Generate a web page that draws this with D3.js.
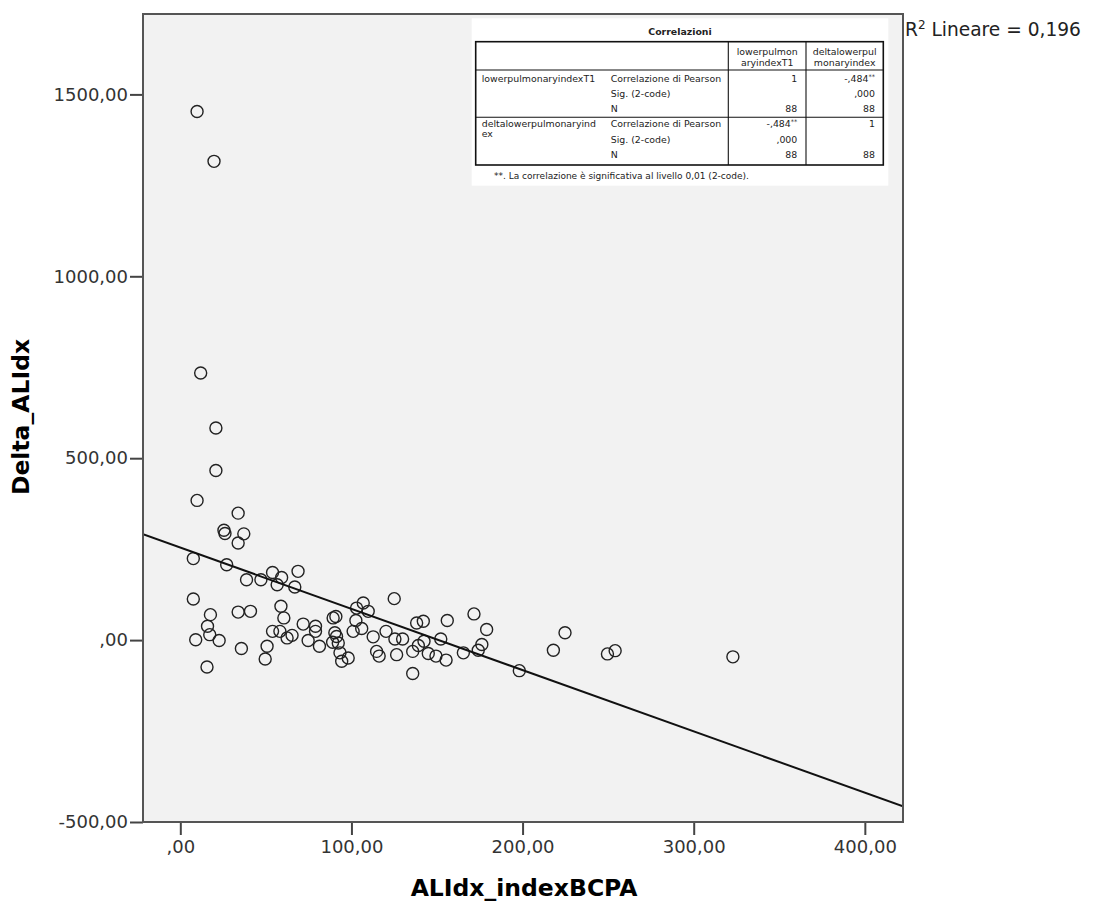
<!DOCTYPE html>
<html>
<head>
<meta charset="utf-8">
<script src="https://cdn.jsdelivr.net/npm/d3@7"></script>
<style>
  body { margin: 0; background: #fff; }
  text { font-family: "DejaVu Sans", sans-serif; }
</style>
</head>
<body>
<div id="chart"></div>
<script>
// valori (88 casi)
const indexBCPA = [
  9.8, 19.7, 11.9, 20.8, 20.8, 9.8, 33.8, 25.5, 26.1, 37.1,
  33.8, 7.6, 27.1, 38.7, 47.1, 53.9, 59.2, 56.6, 68.8, 66.9,
  7.6, 17.6, 15.9, 17.2, 9.0, 22.7, 33.8, 41.0, 58.8, 60.5,
  53.9, 58.2, 62.4, 65.3, 71.8, 79.0, 79.0, 74.7, 81.3, 89.3,
  90.9, 90.3, 91.3, 89.0, 92.3, 93.3, 94.3, 35.7, 50.7, 49.6,
  15.6, 125.0, 106.9, 103.0, 109.8, 102.6, 106.0, 101.0, 112.7, 120.2,
  125.4, 129.9, 138.1, 142.0, 156.0, 171.6, 179.0, 152.2, 142.4, 139.1,
  135.8, 144.9, 149.4, 155.3, 114.7, 116.2, 126.4, 98.1, 165.4, 176.2,
  174.1, 135.8, 198.1, 224.8, 218.0, 249.6, 254.1, 322.9
];
const deltaALIdx = [
  1453, 1316, 734, 583, 466, 384, 349, 302, 293, 292,
  267, 224, 207, 166, 166, 186, 172, 152, 189, 146,
  113, 70, 38, 15, 1, -1, 77, 79, 93, 61,
  24, 24, 6, 13, 44, 38, 24, -1, -17, 61,
  65, 20, 10, -6, -8, -35, -58, -23, -17, -52,
  -74, 114, 102, 88, 79, 54, 32, 24, 9, 24,
  3, 3, 47, 52, 54, 72, 29, 3, -3, -15,
  -31, -37, -44, -55, -31, -44, -40, -49, -35, -12,
  -28, -92, -84, 20, -28, -38, -29, -46
];

// retta di regressione lineare
const fitIntercept = 254.3;
const fitSlope = -1.684;
const r2Label = "0,196";

const xTicks = [0, 100, 200, 300, 400];
const xTickLabels = [",00", "100,00", "200,00", "300,00", "400,00"];
const yTicks = [-500, 0, 500, 1000, 1500];
const yTickLabels = ["-500,00", ",00", "500,00", "1000,00", "1500,00"];

// tabella Correlazioni
const tableHeader = [["lowerpulmon", "aryindexT1"], ["deltalowerpul", "monaryindex"]];
const tableVars = [["lowerpulmonaryindexT1"], ["deltalowerpulmonaryind", "ex"]];
const tableStats = ["Correlazione di Pearson", "Sig. (2-code)", "N"];
const tableValues = [
  [["1", "", "88"], ["-,484", ",000", "88"]],
  [["-,484", ",000", "88"], ["1", "", "88"]]
];
const tableSig = [[false, true], [true, false]];

const W = 1093, H = 907;
const plot = { left: 143, right: 903, top: 14, bottom: 822 };

const svg = d3.select("#chart").append("svg")
  .attr("width", W).attr("height", H)
  .style("background", "#fff");

const x = d3.scaleLinear().domain([-21.8, 422.3]).range([plot.left, plot.right]);
const y = d3.scaleLinear().domain([-500, 1721]).range([plot.bottom, plot.top]);

svg.append("rect")
  .attr("x", plot.left).attr("y", plot.top)
  .attr("width", plot.right - plot.left).attr("height", plot.bottom - plot.top)
  .attr("fill", "#f2f2f2");

svg.append("clipPath").attr("id", "clip")
  .append("rect")
  .attr("x", plot.left).attr("y", plot.top)
  .attr("width", plot.right - plot.left).attr("height", plot.bottom - plot.top);

const inner = svg.append("g").attr("clip-path", "url(#clip)");

// punti
inner.selectAll("circle")
  .data(indexBCPA.map((v, i) => [v, deltaALIdx[i]]))
  .enter().append("circle")
  .attr("cx", d => x(d[0]))
  .attr("cy", d => y(d[1]))
  .attr("r", 6)
  .attr("fill", "none")
  .attr("stroke", "#222")
  .attr("stroke-width", 1.4);

// retta
const [x0, x1] = x.domain();
inner.append("line")
  .attr("x1", x(x0)).attr("y1", y(fitIntercept + fitSlope * x0))
  .attr("x2", x(x1)).attr("y2", y(fitIntercept + fitSlope * x1))
  .attr("stroke", "#111")
  .attr("stroke-width", 2);

// assi
const xAxis = svg.append("g")
  .attr("transform", `translate(0,${plot.bottom})`)
  .call(d3.axisBottom(x).tickValues(xTicks).tickFormat((d, i) => xTickLabels[i]).tickSize(13).tickPadding(5));
const yAxis = svg.append("g")
  .attr("transform", `translate(${plot.left},0)`)
  .call(d3.axisLeft(y).tickValues(yTicks).tickFormat((d, i) => yTickLabels[i]).tickSize(13).tickPadding(2));

[xAxis, yAxis].forEach(a => {
  a.select(".domain").remove();
  a.selectAll(".tick line").attr("stroke", "#444").attr("stroke-width", 2);
  a.selectAll(".tick text")
    .style("font-family", "DejaVu Sans")
    .style("font-size", "18px")
    .attr("fill", "#333");
});

// cornice
svg.append("rect")
  .attr("x", plot.left).attr("y", plot.top)
  .attr("width", plot.right - plot.left).attr("height", plot.bottom - plot.top)
  .attr("fill", "none")
  .attr("stroke", "#555")
  .attr("stroke-width", 2);

// titoli assi
svg.append("text")
  .attr("x", 524).attr("y", 896)
  .attr("text-anchor", "middle")
  .style("font-size", "23.5px").style("font-weight", "bold")
  .text("ALIdx_indexBCPA");

svg.append("text")
  .attr("transform", "translate(29,417) rotate(-90)")
  .attr("text-anchor", "middle")
  .style("font-size", "23.5px").style("font-weight", "bold")
  .text("Delta_ALIdx");

// R2
const r2 = svg.append("text").attr("x", 905).attr("y", 36).style("font-size", "18.6px").attr("fill", "#222");
r2.append("tspan").text("R");
r2.append("tspan").attr("dy", -7).style("font-size", "12px").text("2");
r2.append("tspan").attr("dy", 7).text(" Lineare = " + r2Label);

// tabella
const tb = svg.append("g").style("font-size", "9.4px").attr("fill", "#222");
tb.append("rect")
  .attr("x", 471.7).attr("y", 18.3).attr("width", 416.6).attr("height", 167.4)
  .attr("fill", "#fff");
tb.append("text")
  .attr("x", 680).attr("y", 31.7).attr("dy", "0.35em")
  .attr("text-anchor", "middle").style("font-weight", "bold")
  .text("Correlazioni");

const tL = 475.7, tR = 883.3, colA = 728.3, colB = 806;
const rowLines = [41.7, 70, 117.3, 165];
const colRight = [797.3, 875];
const colCenter = [(colA + colB) / 2, (colB + tR) / 2];
const groupRows = [[78.3, 93.8, 108.8], [124, 139.5, 155]];

tb.append("rect")
  .attr("x", tL).attr("y", rowLines[0]).attr("width", tR - tL).attr("height", rowLines[3] - rowLines[0])
  .attr("fill", "none").attr("stroke", "#111").attr("stroke-width", 1.6);
[rowLines[1], rowLines[2]].forEach(ly => {
  tb.append("line").attr("x1", tL).attr("x2", tR).attr("y1", ly).attr("y2", ly)
    .attr("stroke", "#111").attr("stroke-width", 1.1);
});
[colA, colB].forEach(lx => {
  tb.append("line").attr("x1", lx).attr("x2", lx).attr("y1", rowLines[0]).attr("y2", rowLines[3])
    .attr("stroke", "#111").attr("stroke-width", 1.1);
});

tableHeader.forEach((lines, c) => {
  lines.forEach((t, k) => {
    tb.append("text").attr("x", colCenter[c]).attr("y", 51.7 + k * 10.6).attr("dy", "0.35em")
      .attr("text-anchor", "middle").text(t);
  });
});

tableVars.forEach((lines, g) => {
  lines.forEach((t, k) => {
    tb.append("text").attr("x", 481.7).attr("y", groupRows[g][0] + k * 9.5).attr("dy", "0.35em").text(t);
  });
  tableStats.forEach((s, r) => {
    tb.append("text").attr("x", 610.7).attr("y", groupRows[g][r]).attr("dy", "0.35em").text(s);
  });
  tableValues[g].forEach((vals, c) => {
    vals.forEach((v, r) => {
      if (!v) return;
      const t = tb.append("text").attr("x", colRight[c]).attr("y", groupRows[g][r]).attr("dy", "0.35em")
        .attr("text-anchor", "end");
      t.append("tspan").text(v);
      if (r === 0 && tableSig[g][c]) {
        t.append("tspan").attr("dy", -3).style("font-size", "6.5px").text("**");
      }
    });
  });
});

tb.append("text").attr("x", 494).attr("y", 175.7).attr("dy", "0.35em").style("font-size", "9px")
  .text("**. La correlazione è significativa al livello 0,01 (2-code).");
</script>
</body>
</html>
